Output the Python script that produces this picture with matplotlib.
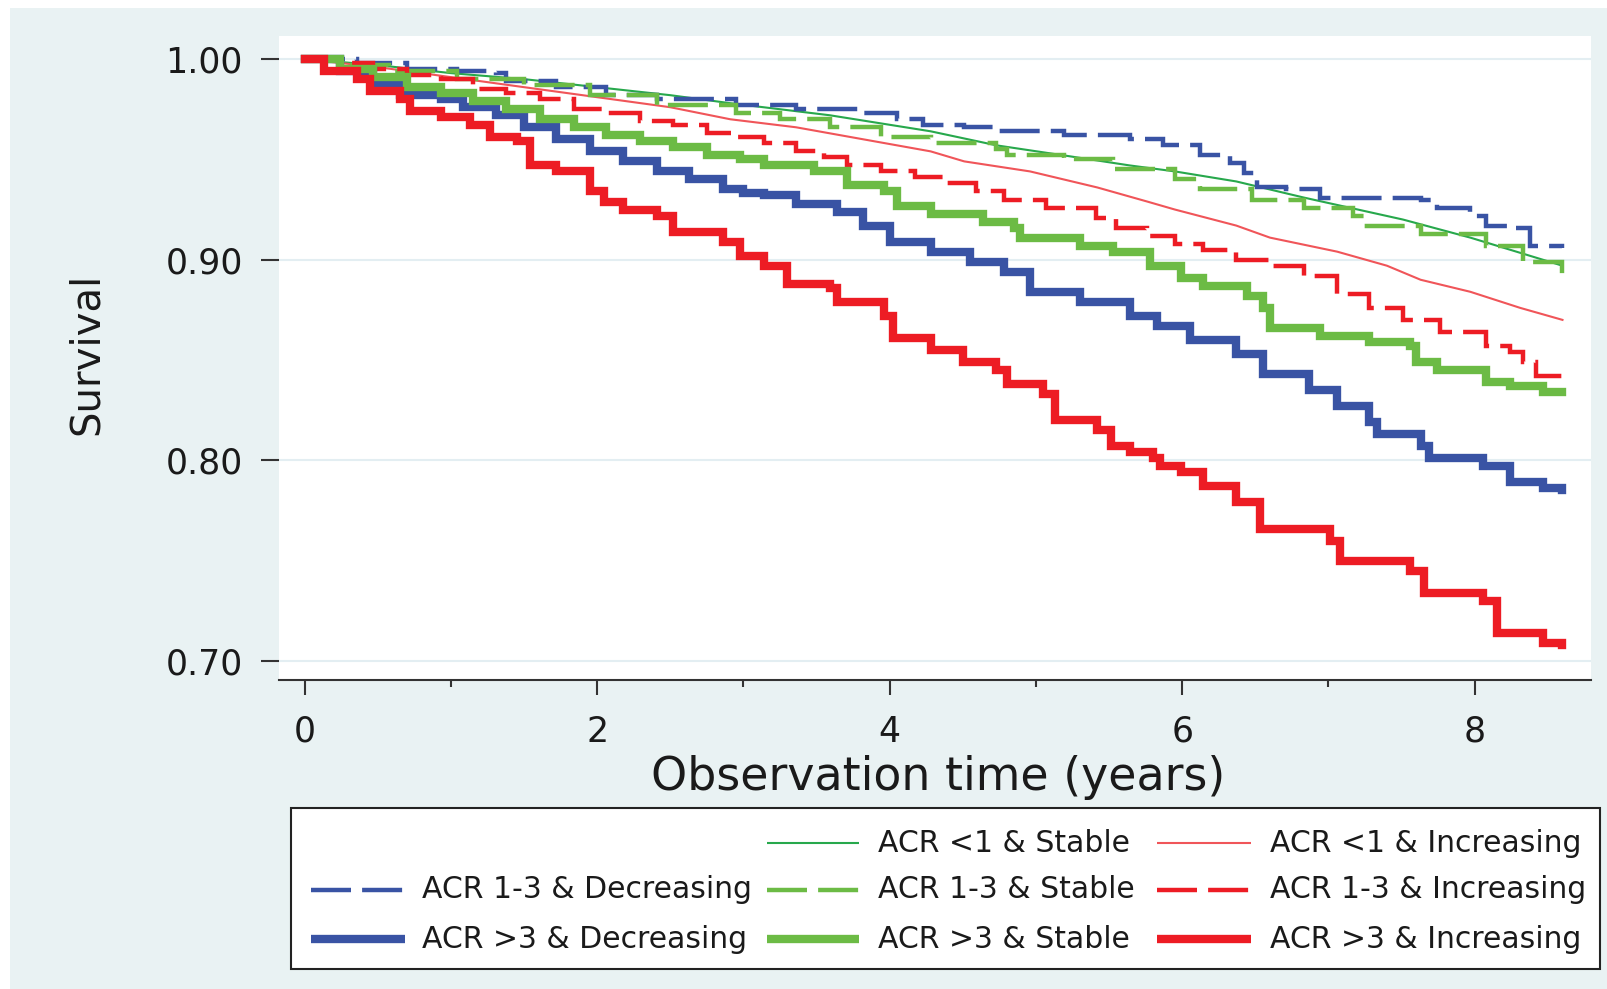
import matplotlib
matplotlib.use("Agg")
import matplotlib.pyplot as plt
from matplotlib.patches import Rectangle
from matplotlib.lines import Line2D

plt.rcParams['font.family'] = ['DejaVu Sans']

# ---------------- data ----------------
t_r3 = [0, 0.13, 0.36, 0.45, 0.65, 0.72, 0.93, 1.13, 1.27, 1.45, 1.54, 1.72, 1.95, 2.05, 2.18, 2.41,
        2.52, 2.86, 2.98, 3.14, 3.30, 3.59, 3.64, 3.96, 4.02, 4.28, 4.50, 4.73, 4.80, 5.05, 5.13, 5.42,
        5.51, 5.64, 5.80, 5.85, 5.99, 6.14, 6.37, 6.53, 7.01, 7.08, 7.56, 7.65, 8.06, 8.15, 8.47, 8.60]
s_r3 = [1.000, 0.994, 0.990, 0.984, 0.980, 0.974, 0.971, 0.967, 0.961, 0.959, 0.947, 0.944, 0.934, 0.929,
        0.925, 0.922, 0.914, 0.909, 0.902, 0.897, 0.888, 0.886, 0.879, 0.872, 0.861, 0.855, 0.849, 0.845,
        0.838, 0.833, 0.820, 0.815, 0.807, 0.804, 0.801, 0.797, 0.794, 0.787, 0.779, 0.766, 0.760, 0.750,
        0.745, 0.734, 0.730, 0.714, 0.709, 0.708]

t_b3 = [0, 0.24, 0.47, 0.65, 0.93, 1.08, 1.31, 1.50, 1.72, 1.95, 2.18, 2.41, 2.63, 2.86, 3.00, 3.14,
        3.36, 3.64, 3.82, 4.00, 4.28, 4.55, 4.78, 4.96, 5.30, 5.64, 5.83, 6.05, 6.37, 6.55, 6.87, 7.06,
        7.28, 7.33, 7.63, 7.69, 8.06, 8.24, 8.47, 8.60]
s_b3 = [1.000, 0.994, 0.987, 0.982, 0.980, 0.976, 0.972, 0.966, 0.960, 0.954, 0.949, 0.944, 0.940, 0.935,
        0.933, 0.932, 0.928, 0.924, 0.917, 0.909, 0.904, 0.899, 0.894, 0.884, 0.879, 0.872, 0.867, 0.860,
        0.853, 0.843, 0.835, 0.827, 0.819, 0.813, 0.807, 0.801, 0.797, 0.789, 0.786, 0.785]

t_g3 = [0, 0.24, 0.47, 0.70, 0.93, 1.15, 1.38, 1.61, 1.84, 2.06, 2.29, 2.52, 2.75, 2.98, 3.14, 3.48,
        3.71, 3.96, 4.05, 4.28, 4.64, 4.85, 4.89, 5.30, 5.53, 5.78, 5.99, 6.14, 6.44, 6.55, 6.60, 6.94,
        7.28, 7.56, 7.60, 7.74, 8.08, 8.24, 8.47, 8.60]
s_g3 = [1.000, 0.995, 0.991, 0.986, 0.983, 0.979, 0.975, 0.970, 0.966, 0.962, 0.959, 0.956, 0.952, 0.950,
        0.947, 0.944, 0.937, 0.934, 0.927, 0.923, 0.919, 0.916, 0.911, 0.907, 0.904, 0.897, 0.891, 0.887,
        0.882, 0.876, 0.866, 0.862, 0.859, 0.857, 0.849, 0.845, 0.839, 0.837, 0.834, 0.834]

t_r2 = [0, 0.24, 0.47, 0.70, 0.93, 1.15, 1.38, 1.61, 1.84, 2.06, 2.29, 2.52, 2.75, 2.95, 3.14, 3.36,
        3.55, 3.71, 3.94, 4.17, 4.39, 4.59, 4.78, 5.07, 5.41, 5.55, 5.76, 5.95, 6.14, 6.37, 6.60, 6.83,
        7.06, 7.28, 7.51, 7.76, 8.08, 8.24, 8.33, 8.42, 8.60]
s_r2 = [1.000, 0.998, 0.995, 0.992, 0.990, 0.985, 0.983, 0.980, 0.975, 0.973, 0.969, 0.967, 0.963, 0.961,
        0.958, 0.954, 0.951, 0.947, 0.944, 0.941, 0.938, 0.934, 0.930, 0.926, 0.921, 0.916, 0.912, 0.908,
        0.905, 0.900, 0.897, 0.892, 0.883, 0.876, 0.870, 0.864, 0.857, 0.854, 0.849, 0.842, 0.840]

t_g2 = [0, 0.24, 0.58, 1.04, 1.50, 1.95, 2.41, 2.95, 3.25, 3.59, 3.94, 4.28, 4.73, 4.80, 5.19, 5.53,
        5.95, 6.12, 6.48, 6.83, 7.17, 7.24, 7.63, 8.08, 8.33, 8.60]
s_g2 = [1.000, 0.997, 0.994, 0.990, 0.987, 0.982, 0.977, 0.973, 0.970, 0.966, 0.961, 0.958, 0.955, 0.952,
        0.950, 0.945, 0.940, 0.935, 0.930, 0.926, 0.922, 0.917, 0.913, 0.907, 0.899, 0.893]

t_b2 = [0, 0.36, 0.70, 1.04, 1.31, 1.38, 1.72, 2.06, 2.41, 2.95, 3.36, 3.82, 4.05, 4.23, 4.51, 4.73,
        5.19, 5.64, 5.87, 6.12, 6.33, 6.42, 6.51, 6.71, 6.94, 7.63, 7.74, 7.97, 8.08, 8.27, 8.38, 8.60]
s_b2 = [1.000, 0.998, 0.995, 0.994, 0.993, 0.989, 0.986, 0.982, 0.980, 0.977, 0.975, 0.973, 0.970, 0.967,
        0.966, 0.964, 0.962, 0.960, 0.957, 0.952, 0.948, 0.943, 0.936, 0.935, 0.931, 0.930, 0.926, 0.922,
        0.917, 0.916, 0.907, 0.906]

t_r1 = [0, 0.5, 1.0, 1.5, 2.0, 2.5, 2.91, 3.36, 3.82, 4.28, 4.51, 4.96, 5.42, 5.76, 5.95, 6.37, 6.60,
        7.06, 7.40, 7.63, 7.97, 8.31, 8.60]
s_r1 = [1.000, 0.996, 0.991, 0.986, 0.981, 0.976, 0.970, 0.966, 0.960, 0.954, 0.949, 0.944, 0.936, 0.929,
        0.925, 0.917, 0.911, 0.904, 0.897, 0.890, 0.884, 0.876, 0.870]

t_g1 = [0, 0.5, 1.0, 1.5, 2.0, 2.5, 2.91, 3.59, 4.28, 4.73, 5.19, 5.64, 5.95, 6.37, 6.83, 7.51, 7.97,
        8.42, 8.60]
s_g1 = [1.000, 0.997, 0.993, 0.990, 0.986, 0.982, 0.978, 0.972, 0.964, 0.957, 0.952, 0.947, 0.944, 0.939,
        0.931, 0.920, 0.911, 0.901, 0.897]

labels = ["ACR <1 & Stable", "ACR <1 & Increasing",
          "ACR 1-3 & Decreasing", "ACR 1-3 & Stable", "ACR 1-3 & Increasing",
          "ACR >3 & Decreasing", "ACR >3 & Stable", "ACR >3 & Increasing"]
y_ticks = [0.70, 0.80, 0.90, 1.00]
y_ticklabels = ["0.70", "0.80", "0.90", "1.00"]
x_ticks = [0, 2, 4, 6, 8]
x_minor = [1, 3, 5, 7]

# ---------------- style ----------------
BLUE = '#3953a4'
GREEN = '#6cbb45'
RED = '#ed1c24'
THIN_GREEN = '#27a84c'
THIN_RED = '#f05559'
BG = '#e9f2f3'
TXT = '#1a1a1a'
DASH = (0, (9, 2.5))
W, H = 1608, 989

fig = plt.figure(figsize=(W / 100, H / 100), dpi=100)
fig.patch.set_facecolor('white')
fig.patches.append(Rectangle((10 / W, 0), 1 - 10 / W, 1 - 8 / H, transform=fig.transFigure,
                             facecolor=BG, edgecolor='none', zorder=-10))

ax = fig.add_axes([279 / W, 1 - 680 / H, (1591 - 279) / W, (680 - 36) / H])
ax.set_facecolor('white')

series = [
    (t_g1, s_g1, THIN_GREEN, 1.5, '-', 'line'),
    (t_r1, s_r1, THIN_RED, 1.5, '-', 'line'),
    (t_b2, s_b2, BLUE, 3.2, DASH, 'step'),
    (t_g2, s_g2, GREEN, 3.2, DASH, 'step'),
    (t_r2, s_r2, RED, 3.2, DASH, 'step'),
    (t_b3, s_b3, BLUE, 6.0, '-', 'step'),
    (t_g3, s_g3, GREEN, 6.0, '-', 'step'),
    (t_r3, s_r3, RED, 6.0, '-', 'step'),
]
for i, (t, s, c, lw, ls, kind) in enumerate(series):
    if kind == 'step':
        ax.step(t, s, where='post', color=c, lw=lw, ls=ls, zorder=3 + i,
                solid_joinstyle='miter', dash_joinstyle='miter')
    else:
        ax.plot(t, s, color=c, lw=lw, ls=ls, zorder=3 + i)

ax.set_xlim(-0.175, 8.795)
ax.set_ylim(0.6905, 1.0115)
ax.set_yticks(y_ticks)
ax.set_yticklabels(y_ticklabels)
ax.set_xticks(x_ticks)
ax.set_xticks(x_minor, minor=True)
ax.yaxis.grid(True, color='#e3eef2', lw=1.5)
ax.set_axisbelow(True)
for sp in ['left', 'top', 'right']:
    ax.spines[sp].set_visible(False)
ax.spines['bottom'].set_color('#333333')
ax.spines['bottom'].set_linewidth(1.5)
ax.tick_params(axis='y', length=13, width=1.5, pad=13, labelsize=25, color='#333333', labelcolor=TXT)
ax.tick_params(axis='x', which='major', length=11, width=1.5, pad=14, labelsize=25,
               color='#333333', labelcolor=TXT)
ax.tick_params(axis='x', which='minor', length=5, width=1.5, color='#333333')

fig.text(938 / W, 1 - 777 / H, "Observation time (years)", ha='center', va='center',
         fontsize=33, color=TXT)
fig.text(87 / W, 1 - 354 / H, "Survival", ha='center', va='center', rotation=90,
         fontsize=29, color=TXT)

# ---------------- legend ----------------
fig.patches.append(Rectangle((291 / W, 1 - 969 / H), (1600 - 291) / W, (969 - 808) / H,
                             transform=fig.transFigure, facecolor='white', edgecolor='#222222',
                             lw=1.5, zorder=1))
rows = [843, 890, 939]
cols = [(311, 405, 422), (767, 859, 878), (1157, 1251, 1270)]
entries = [  # (col, row, series index)
    (1, 0, 0), (2, 0, 1),
    (0, 1, 2), (1, 1, 3), (2, 1, 4),
    (0, 2, 5), (1, 2, 6), (2, 2, 7),
]
for c, r, k in entries:
    x0, x1, xl = cols[c]
    y = 1 - rows[r] / H
    _, _, col, lw, ls, _ = series[k]
    fig.add_artist(Line2D([x0 / W, x1 / W], [y, y], transform=fig.transFigure, color=col,
                          lw=lw, ls=ls, solid_capstyle='butt', dash_capstyle='butt', zorder=2))
    fig.text(xl / W, y, labels[k], ha='left', va='center', fontsize=21.5, color=TXT, zorder=2)

fig.savefig("out.png", dpi=100, facecolor=fig.get_facecolor())
